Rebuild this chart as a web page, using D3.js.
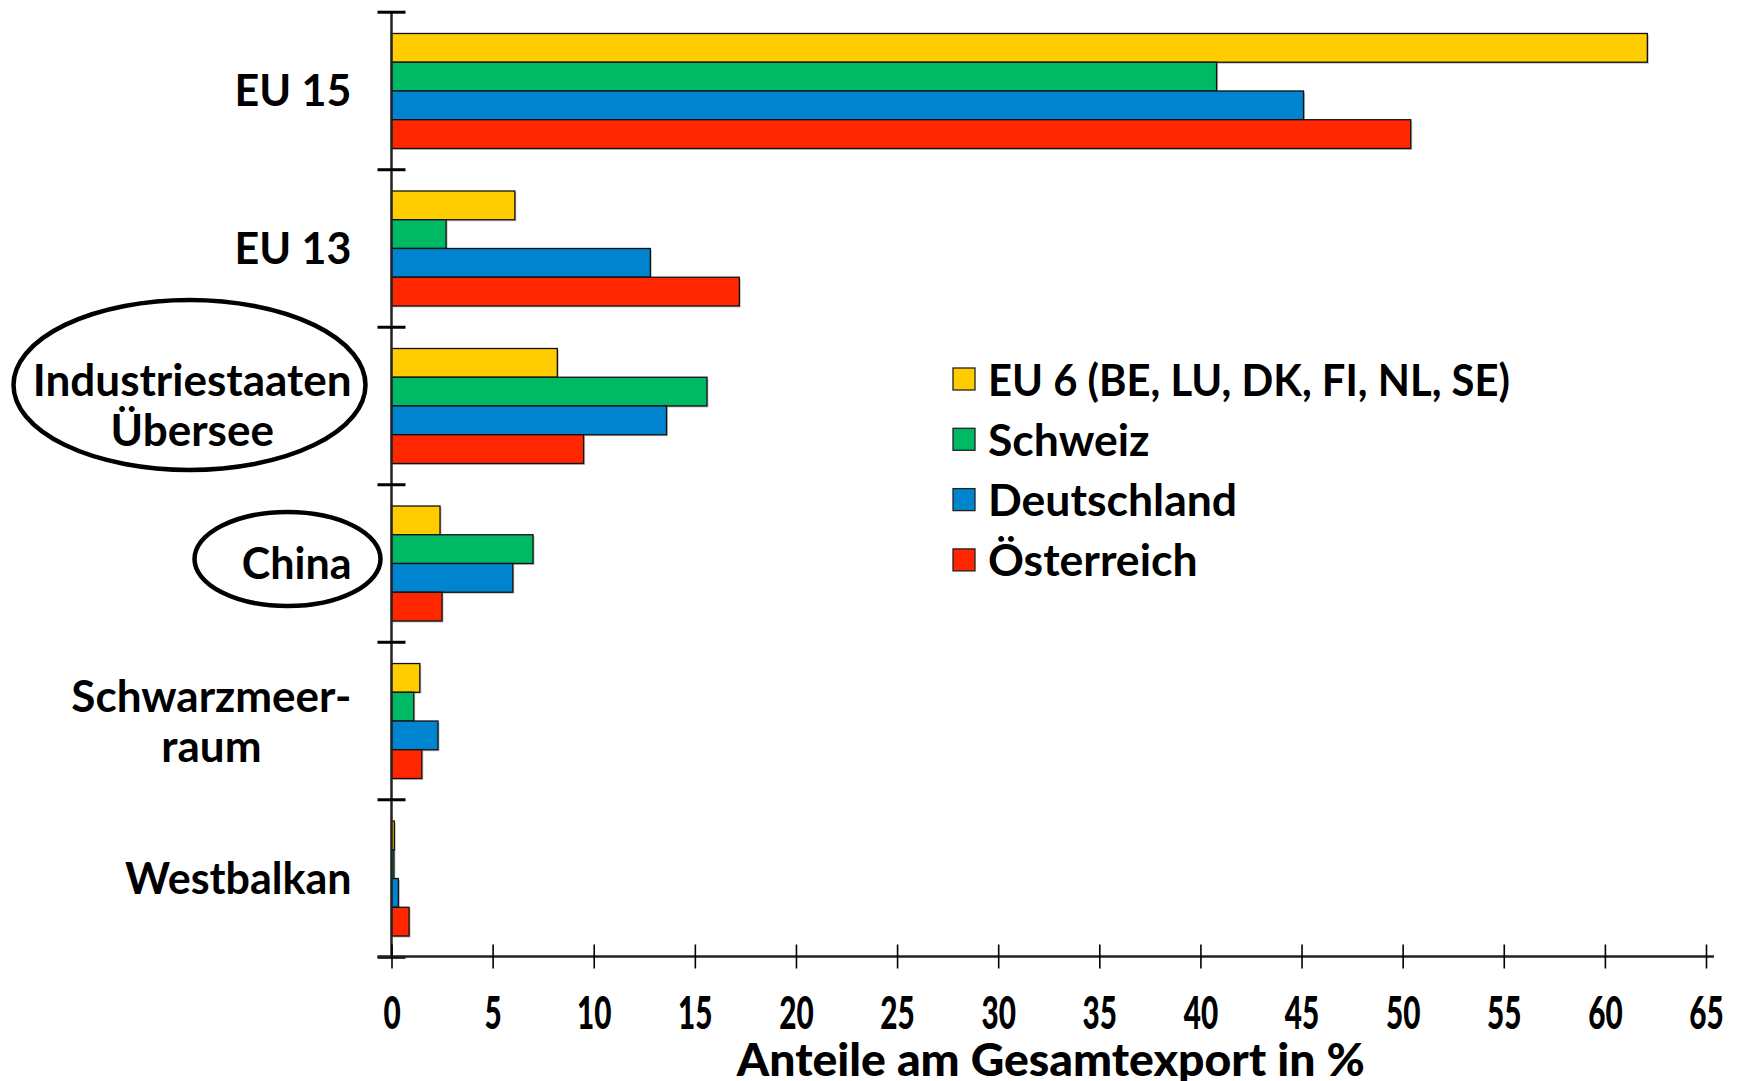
<!DOCTYPE html>
<html>
<head>
<meta charset="utf-8">
<script src="https://cdn.jsdelivr.net/npm/d3@7"></script>
<style>
  body { margin: 0; background: #fff; }
  svg { display: block; }
  text { font-family: Lato, "DejaVu Sans", sans-serif; font-weight: 700; fill: #000; }
</style>
</head>
<body>
<svg width="1738" height="1081"></svg>
<script>
// Regionen (von oben nach unten)
const categories = ['EU 15', 'EU 13', 'Industriestaaten Übersee', 'China', 'Schwarzmeerraum', 'Westbalkan'];
const categoryLines = [['EU 15'], ['EU 13'], ['Industriestaaten', 'Übersee'], ['China'], ['Schwarzmeer-', 'raum'], ['Westbalkan']];
const highlighted = ['Industriestaaten Übersee', 'China'];

// Serien
const series = ['EU 6 (BE, LU, DK, FI, NL, SE)', 'Schweiz', 'Deutschland', 'Österreich'];
const seriesColors = ['#FFCC00', '#00B964', '#0084CF', '#FF2600'];

// Anteile am Gesamtexport in % (Reihenfolge wie categories)
const eu6 =         [62.1, 6.1, 8.2, 2.4, 1.4, 0.14];
const schweiz =     [40.8, 2.7, 15.6, 7.0, 1.1, 0.12];
const deutschland = [45.1, 12.8, 13.6, 6.0, 2.3, 0.34];
const oesterreich = [50.4, 17.2, 9.5, 2.5, 1.5, 0.87];

const xTicks = d3.range(0, 66, 5);
const xTitle = 'Anteile am Gesamtexport in %';

const valuesBySeries = [eu6, schweiz, deutschland, oesterreich];
const data = categories.map((c, i) => ({
    category: c,
    values: series.map((s, j) => ({ series: s, value: valuesBySeries[j][i], color: seriesColors[j] }))
}));

const svg = d3.select('svg');
const margin = { left: 391.5, right: 32, top: 13, bottom: 124.5 };
const width = +svg.attr('width');
const height = +svg.attr('height');
const axisY = height - margin.bottom;

// --- Skalen ---
const x = d3.scaleLinear().domain([0, 65]).range([margin.left, width - margin.right]);

const y0 = d3.scaleBand()
    .domain(categories)
    .range([margin.top, axisY])
    .paddingInner(0.27)
    .paddingOuter(0.13);

const y1 = d3.scaleBand().domain(series).range([0, y0.bandwidth()]);

const gap = (y0.step() - y0.bandwidth()) / 2;
const bandStart = c => y0(c) - gap;
const bandCenter = c => y0(c) + y0.bandwidth() / 2;

// --- Balken ---
const groups = svg.append('g').selectAll('g')
    .data(data)
    .join('g')
    .attr('transform', d => `translate(0, ${y0(d.category)})`);

groups.selectAll('rect.shadow')
    .data(d => d.values)
    .join('rect')
    .attr('class', 'shadow')
    .attr('x', x(0) + 1.5)
    .attr('y', d => y1(d.series) + 1.5)
    .attr('width', d => x(d.value) - x(0))
    .attr('height', y1.bandwidth())
    .attr('fill', '#9a9a9a')
    .attr('opacity', 0.6);

groups.selectAll('rect.bar')
    .data(d => d.values)
    .join('rect')
    .attr('class', 'bar')
    .attr('x', x(0))
    .attr('y', d => y1(d.series))
    .attr('width', d => x(d.value) - x(0))
    .attr('height', y1.bandwidth())
    .attr('fill', d => d.color)
    .attr('stroke', '#111')
    .attr('stroke-width', 1.3);

// --- y-Achse ---
const axes = svg.append('g');
axes.append('line')
    .attr('x1', x(0)).attr('x2', x(0))
    .attr('y1', margin.top).attr('y2', axisY)
    .attr('stroke', '#222').attr('stroke-width', 2.5);

const boundaries = categories.map(bandStart).concat([bandStart(categories[categories.length - 1]) + y0.step()]);
axes.selectAll('line.ytick')
    .data(boundaries)
    .join('line')
    .attr('class', 'ytick')
    .attr('x1', x(0) - 14).attr('x2', x(0) + 14)
    .attr('y1', d => d).attr('y2', d => d)
    .attr('stroke', '#000').attr('stroke-width', 3);

// --- x-Achse ---
axes.append('line')
    .attr('x1', x(0) - 14).attr('x2', x(65) + 8)
    .attr('y1', axisY).attr('y2', axisY)
    .attr('stroke', '#222').attr('stroke-width', 2.5);

const xAxis = d3.axisBottom(x).tickValues(xTicks).tickSize(12).tickFormat(d3.format('d'));
const xg = svg.append('g')
    .attr('transform', `translate(0, ${axisY})`)
    .call(xAxis);
xg.select('.domain').remove();
xg.selectAll('.tick line').attr('y1', -12).attr('y2', 12).attr('stroke', '#000').attr('stroke-width', 1.6);
xg.selectAll('.tick text')
    .attr('y', 0)
    .attr('dy', 73)
    .attr('transform', 'scale(0.66,1)')
    .style('font-family', 'Lato, sans-serif')
    .style('font-weight', 900)
    .style('font-size', '45px')
    .attr('fill', '#000');

svg.append('text')
    .attr('x', (x(0) + x(65)) / 2 + 2)
    .attr('y', axisY + 119)
    .attr('text-anchor', 'middle')
    .attr('textLength', 628)
    .attr('lengthAdjust', 'spacingAndGlyphs')
    .style('font-size', '45px')
    .style('font-weight', 900)
    .text(xTitle);

// --- Kategorienbeschriftung ---
const labelRight = x(0) - 40;
const lineGap = 50;
const labels = svg.append('g').selectAll('g')
    .data(categories)
    .join('g');

labels.each(function(c, i) {
    const lines = categoryLines[i];
    const g = d3.select(this);
    const cy = bandCenter(c);
    const firstBase = cy + 15.5 - (lines.length - 1) * lineGap / 2;
    const texts = g.selectAll('text')
        .data(lines)
        .join('text')
        .attr('y', (d, k) => firstBase + k * lineGap)
        .attr('text-anchor', 'middle')
        .style('font-size', lines.length > 1 ? '44px' : '43px')
        .text(d => d);
    const maxW = d3.max(texts.nodes(), n => n.getComputedTextLength());
    texts.attr('x', labelRight - maxW / 2);

    if (highlighted.includes(c)) {
        const multi = lines.length > 1;
        const rx = multi ? 176 : 93;
        const rightPad = multi ? 14 : 29;
        g.insert('ellipse', 'text')
            .attr('cx', labelRight + rightPad - rx)
            .attr('cy', multi ? cy - 21 : cy - 4.5)
            .attr('rx', rx)
            .attr('ry', multi ? 85 : 47)
            .attr('fill', 'none')
            .attr('stroke', '#000')
            .attr('stroke-width', 4.5);
    }
});

// --- Legende ---
const legendMaxWidth = 522;
const legend = svg.append('g').attr('transform', 'translate(953, 368)');
const items = legend.selectAll('g')
    .data(series)
    .join('g')
    .attr('transform', (d, i) => `translate(0, ${i * 60.3})`);

items.append('rect')
    .attr('width', 22).attr('height', 22)
    .attr('fill', (d, i) => seriesColors[i])
    .attr('stroke', '#222').attr('stroke-width', 1.3);

items.append('text')
    .attr('x', 35)
    .attr('y', 27.5)
    .style('font-size', '44.5px')
    .text(d => d)
    .each(function() {
        if (this.getComputedTextLength() > legendMaxWidth) {
            d3.select(this)
                .attr('textLength', legendMaxWidth)
                .attr('lengthAdjust', 'spacingAndGlyphs');
        }
    });
</script>
</body>
</html>
